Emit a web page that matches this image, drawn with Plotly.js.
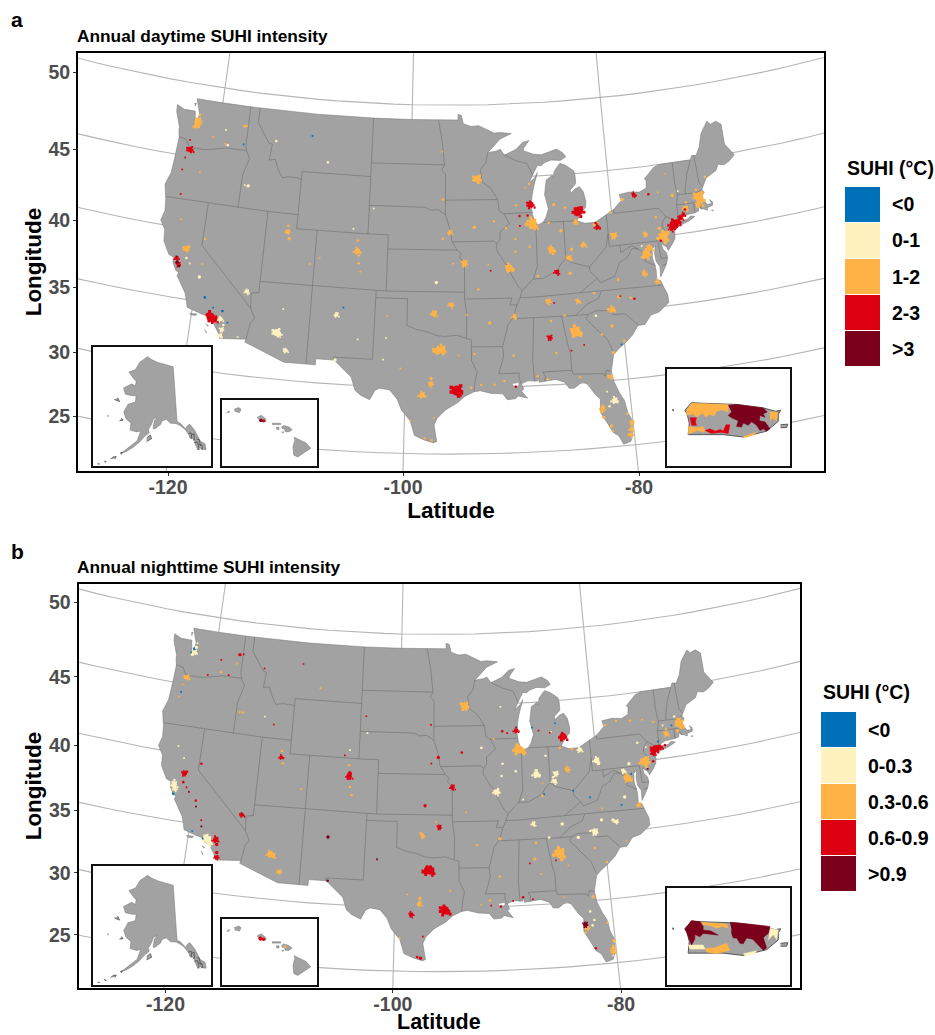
<!DOCTYPE html>
<html><head><meta charset="utf-8">
<script src="https://cdn.plot.ly/plotly-3.0.1.min.js"></script>
<style>html,body{margin:0;padding:0;background:#fff}#g{width:935px;height:1035px}</style>
</head><body><div id="g"></div>
<script>
const xTickVals=[168,403,639], xTickText=['-120','-100','-80'];
const yTickVals=[72,149,220,287,352,416], yTickText=['50','45','40','35','30','25'];
const classColors=['#0070B8','#FFF2BE','#FFB347','#DD0010','#7A001C'];
const dayLabels=['<0','0-1','1-2','2-3','>3'];
const nightLabels=['<0','0-0.3','0.3-0.6','0.6-0.9','>0.9'];
const usOutline=[[-124.7,48.38],[-123.9,48.15],[-123.2,48.15],[-122.75,48.15],[-122.55,47.3],[-122.35,47.6],[-122.25,48.0],[-122.5,48.5],[-122.76,49],[-120,49],[-117,49],[-110,49],[-104,49],[-100,49],[-97.2,49],[-95.15,49],[-95.15,49.38],[-94.8,49.3],[-94.6,48.75],[-93.8,48.55],[-93,48.6],[-92,48.3],[-91.4,48.07],[-90.75,48.1],[-89.6,48],[-90.8,47.65],[-91.5,47.2],[-92.1,46.75],[-91.2,46.85],[-90.8,46.95],[-90.4,46.55],[-89.2,46.9],[-88.45,47.37],[-87.8,47.47],[-88.4,46.95],[-88.45,46.8],[-87.4,46.52],[-86.6,46.45],[-85,46.77],[-84.4,46.5],[-84.1,46.2],[-84.7,45.98],[-85.6,46.05],[-86.3,45.9],[-86.7,45.7],[-87.05,45.75],[-87.6,45.1],[-88,44.55],[-87.4,44.9],[-87.1,45.25],[-87.5,44.4],[-87.75,43.7],[-87.9,43],[-87.8,42.3],[-87.6,41.85],[-87.3,41.62],[-86.8,41.78],[-86.5,42.1],[-86.2,42.7],[-86.3,43.1],[-86.5,43.7],[-86.25,44.7],[-85.6,45],[-85.5,44.8],[-85.4,45.25],[-85,45.6],[-84.75,45.78],[-84.2,45.63],[-83.4,45.2],[-83.3,44.85],[-83.3,44.3],[-83.9,43.9],[-83.9,43.65],[-83.4,43.95],[-82.95,44.07],[-82.6,43.7],[-82.42,43],[-82.5,42.6],[-82.9,42.35],[-83.15,42.05],[-83.45,41.72],[-82.7,41.5],[-81.7,41.5],[-80.5,41.98],[-79.75,42.27],[-78.9,42.85],[-79.05,43.27],[-78,43.37],[-77,43.28],[-76.3,43.5],[-76.2,44],[-76.35,44.15],[-75.3,44.85],[-74.7,45],[-73.35,45],[-71.5,45],[-71.3,45.3],[-70.85,45.25],[-70.4,45.8],[-70.25,46.2],[-70,46.7],[-69.2,47.45],[-68.9,47.2],[-68.3,47.35],[-67.8,47.07],[-67.8,45.7],[-67.45,45.3],[-67,44.85],[-67.6,44.5],[-68.2,44.3],[-68.8,44.4],[-69.1,44],[-69.8,43.75],[-70.2,43.6],[-70.6,43.1],[-70.8,42.85],[-70.6,42.65],[-71,42.3],[-70.65,41.95],[-70.5,41.77],[-70.05,41.78],[-70.2,42.07],[-69.95,41.9],[-69.97,41.65],[-70.65,41.52],[-71.1,41.5],[-71.35,41.7],[-71.45,41.4],[-71.85,41.32],[-72.9,41.25],[-73.65,40.98],[-73.95,40.78],[-74,40.7],[-74,40.45],[-74.1,39.75],[-74.4,39.4],[-74.9,38.95],[-75,39.2],[-75.5,39.5],[-75.4,39.1],[-75.1,38.8],[-75.05,38.45],[-75.25,38],[-75.65,37.5],[-75.95,37.15],[-75.9,37.9],[-76.2,38.3],[-76.25,38.9],[-76.1,39.4],[-76.45,39.2],[-76.5,38.5],[-76.35,38.05],[-76.3,37.6],[-76.35,37],[-76,36.9],[-75.85,36.55],[-75.5,35.8],[-75.5,35.25],[-76.5,34.65],[-77.3,34.5],[-77.95,33.87],[-78.6,33.85],[-79.2,33.2],[-79.9,32.7],[-80.65,32.25],[-81.1,31.9],[-81.3,31.3],[-81.45,30.7],[-81.3,29.9],[-80.9,29],[-80.55,28.45],[-80.35,27.5],[-80.05,26.9],[-80.12,25.8],[-80.35,25.3],[-81,25.13],[-81.35,25.8],[-81.8,26.1],[-82.2,26.8],[-82.75,27.7],[-82.65,28.7],[-83.1,29.1],[-83.65,29.85],[-84.1,30.1],[-84.9,29.65],[-85.35,29.68],[-85.7,30.15],[-86.5,30.4],[-87.5,30.3],[-88,30.25],[-88.05,30.65],[-88.15,30.35],[-89,30.4],[-89.6,30.2],[-89.4,29.8],[-89.6,29.65],[-89.1,29.1],[-89.9,29.3],[-90.2,29.1],[-90.9,29.05],[-91.3,29.5],[-91.85,29.5],[-92.3,29.55],[-93.3,29.77],[-93.85,29.7],[-94.7,29.35],[-95.3,28.9],[-96.4,28.35],[-97.15,27.7],[-97.4,27.2],[-97.25,26.5],[-97.15,25.96],[-97.4,25.85],[-98.2,26.05],[-99.1,26.4],[-99.5,27.5],[-100.3,28.3],[-100.7,29.1],[-101.4,29.77],[-102.3,29.88],[-102.7,29.7],[-103.15,28.98],[-104,29.3],[-104.5,29.65],[-104.9,30.6],[-106,31.4],[-106.53,31.78],[-108.2,31.78],[-108.2,31.33],[-111.07,31.33],[-114.8,32.5],[-114.72,32.72],[-117.12,32.53],[-117.25,32.85],[-117.9,33.6],[-118.4,33.75],[-118.5,34.03],[-119.2,34.15],[-120.5,34.45],[-120.65,34.9],[-120.9,35.45],[-121.9,36.6],[-121.8,36.85],[-122.1,36.95],[-122.5,37.5],[-122.5,37.8],[-122.2,37.55],[-122.35,38],[-122.5,37.85],[-123,38],[-123.7,38.9],[-123.8,39.7],[-124.35,40.3],[-124.1,41],[-124.2,41.75],[-124.55,42.84],[-124.15,43.7],[-124.05,44.7],[-123.95,46.2],[-124.1,46.7],[-124.1,46.9],[-124.65,47.9],[-124.7,48.38]];
const longIsland=[[-74,40.6],[-73.75,40.85],[-72.6,40.97],[-72.3,41.15],[-71.87,41.07],[-72.5,40.82],[-73.5,40.58],[-74,40.6]];
const smallIslands=[[[-120.2,34.05],[-119.5,34.07],[-119.6,33.95],[-120.1,33.95]],[[-118.6,33.47],[-118.3,33.35],[-118.4,33.3]],[[-118.6,33.05],[-118.35,32.82],[-118.45,32.82]],[[-70.85,41.45],[-70.5,41.47],[-70.6,41.35]],[[-70.2,41.32],[-69.97,41.3],[-70.1,41.24]],[[-122.95,48.65],[-122.75,48.7],[-122.85,48.45]]];
const lakes=[[[-90.4,30.25],[-89.8,30.3],[-89.85,30.05],[-90.3,30.05]]];
const stateBorders=[
[[-124,46.25],[-123.2,46.15],[-122.8,45.65],[-121.2,45.65],[-119.3,45.93],[-119,46],[-116.92,46]],
[[-117.03,49],[-117.04,46.4],[-116.92,46],[-116.5,45.5],[-117,44.3],[-117.03,42]],
[[-116.05,49],[-116.05,48],[-114.7,46.7],[-114.35,46.65],[-114.5,45.55],[-113.9,45.65],[-113.45,44.95],[-113,44.45],[-112.3,44.55],[-111.5,44.55],[-111.05,44.47]],
[[-111.05,45],[-111.05,41],[-104.05,41]],[[-111.05,45],[-104.05,45]],[[-104.05,49],[-104.05,41]],
[[-104.05,45.94],[-96.56,45.94]],[[-97.2,49],[-96.8,47.5],[-96.56,45.94],[-96.85,45.6],[-96.45,45.3],[-96.45,43.5],[-96.45,42.49]],
[[-104.05,43],[-98.5,43],[-97.9,42.8],[-97.2,42.85],[-96.45,42.49]],[[-96.45,43.5],[-91.22,43.5]],
[[-104.05,41],[-102.05,41],[-102.05,37]],[[-102.05,40],[-95.31,40]],
[[-96.45,42.49],[-96.1,41.7],[-95.9,41.2],[-95.85,40.7],[-95.31,40],[-94.9,39.75],[-95.1,39.5],[-94.6,39.1],[-94.62,36.5],[-94.43,35.4],[-94.48,33.64]],
[[-109.05,41],[-109.05,31.33]],[[-114.04,37],[-102.05,37],[-94.62,37]],[[-114.04,42],[-111.05,42]],[[-114.04,42],[-114.04,36.2],[-114.75,36.1],[-114.63,35]],
[[-124.2,42],[-114.04,42]],[[-120,42],[-120,39],[-114.63,35],[-114.15,34.3],[-114.5,33.9],[-114.72,32.72]],
[[-103,37],[-103,36.5],[-103.06,32],[-106.62,32],[-106.53,31.78]],
[[-103,36.5],[-100,36.5],[-100,34.56],[-99.2,34.3],[-98.1,34.13],[-97.2,33.85],[-96.5,33.8],[-95.3,33.88],[-94.48,33.64],[-94.04,33.55],[-94.04,32],[-93.55,31.2],[-93.75,30.4],[-93.85,29.7]],
[[-94.04,33.02],[-91.17,33]],[[-94.62,36.5],[-90.15,36.5],[-90.37,36],[-89.7,36]],
[[-92.1,46.75],[-92.3,46.1],[-92.9,45.6],[-92.75,44.75],[-91.9,44.3],[-91.22,43.5],[-91.1,42.7],[-90.64,42.5],[-90.15,41.8],[-91.1,41.2],[-91.1,40.7],[-91.42,40.4],[-91.5,40],[-90.7,39],[-90.2,38.7],[-90.2,38.3],[-89.5,37.3],[-89.15,37],[-89.4,36.5],[-89.7,36],[-90.1,35.1],[-90.6,34.6],[-91.17,33],[-91.1,32.3],[-91.6,31],[-89.75,31],[-89.8,30.65],[-89.6,30.2]],
[[-95.77,40.58],[-91.73,40.6],[-91.42,40.4]],[[-90.64,42.5],[-87.8,42.5]],[[-90.4,46.55],[-89.1,46.1],[-88.1,45.9],[-87.8,45.35],[-87.6,45.1]],
[[-87.53,41.7],[-87.53,39.35],[-87.6,38.7],[-88.05,37.8],[-89.15,37]],[[-84.8,41.76],[-84.82,39.1]],[[-86.8,41.76],[-84.8,41.76],[-83.45,41.72]],
[[-88.05,37.8],[-87.1,37.8],[-86.3,38.1],[-85.7,38.3],[-85.4,38.7],[-84.82,39.1],[-84.3,38.8],[-83.7,38.65],[-82.6,38.4],[-81.75,39],[-80.85,39.7],[-80.52,40.64],[-80.52,41.98]],
[[-80.52,40.64],[-80.52,39.72],[-75.79,39.72],[-75.7,38.46],[-75.05,38.45]],[[-79.76,42.27],[-79.76,42],[-75.35,42],[-74.7,41.36],[-75.13,40.98],[-75.2,40.65],[-74.75,40.2],[-75.4,39.8]],[[-74.7,41.36],[-73.9,41]],
[[-79.48,39.72],[-79.48,39.2],[-78.4,39.6],[-77.75,39.32],[-77.1,38.85],[-77.25,38.4],[-76.3,38]],[[-75.65,37.95],[-75.25,38.03]],
[[-77.75,39.32],[-78.35,39.4],[-78.9,38.8],[-79.7,38.5],[-80.3,37.55],[-81.7,37.2],[-81.97,37.54],[-82.6,38.1],[-82.6,38.4]],[[-81.97,37.54],[-83.68,36.6]],
[[-75.85,36.55],[-81.68,36.59],[-83.68,36.6],[-88.05,36.5],[-89.4,36.5]],[[-81.68,36.59],[-82,36.1],[-83.1,35.75],[-84.3,35]],
[[-90.1,35],[-88.2,35],[-85.6,35],[-84.32,34.99],[-83.11,35]],[[-83.11,35],[-82.4,35.2],[-81.05,35.15],[-80.8,34.82],[-79.67,34.8],[-78.55,33.86]],
[[-83.11,35],[-83.35,34.7],[-82.55,33.95],[-81.5,33],[-81.1,32.1]],[[-85.6,35],[-85.18,32.87],[-85,32.3],[-85,31],[-84.86,30.7],[-82.2,30.57],[-82.05,30.36],[-81.9,30.8],[-81.45,30.7]],
[[-87.6,31],[-85,31]],[[-87.6,31],[-87.4,30.65],[-87.5,30.3]],[[-88.2,35],[-88.47,31.9],[-88.4,30.3]],
[[-71.5,45],[-72.05,44.1],[-72.45,43],[-72.46,42.73]],[[-73.35,45],[-73.4,43.6],[-73.27,42.75],[-73.5,42.05],[-73.5,41.3],[-73.65,41]],
[[-73.27,42.75],[-71.3,42.7],[-70.82,42.87]],[[-73.5,42.05],[-71.8,42.02],[-71.38,42.02],[-71.13,41.5]],[[-71.8,42.02],[-71.85,41.32]],[[-71.08,45.3],[-70.98,43.4],[-70.7,43.07]]
];
const alaskaMain=[[-156.5,71.35],[-154,70.9],[-150,70.45],[-146,70.15],[-141,69.65],[-141,60.3],[-139.5,60],[-137.5,59],[-136.5,59.45],[-135.4,59.7],[-133.5,58.5],[-131.8,56.6],[-130,56],[-130,55],[-131.5,55.2],[-133,55.6],[-134.5,57],[-136.5,58.1],[-138,59],[-139.7,59.6],[-141.5,60],[-144,60.1],[-146,60.8],[-148,60.5],[-148.5,59.95],[-151,59.2],[-151.9,59.2],[-151.4,60.6],[-150,61.2],[-151.8,60.9],[-152.7,59.9],[-154,59],[-153.5,58.5],[-155.5,57.8],[-157.5,56.8],[-160,55.8],[-162.5,55],[-164.5,54.6],[-163,55.2],[-161,55.95],[-158.5,57],[-157.3,58.7],[-159,58.5],[-162,58.7],[-162,59.9],[-164.5,60.5],[-166,61.6],[-165,62.5],[-164.5,63],[-161,63.5],[-161,64.6],[-163,64.5],[-166.5,64.6],[-168,65.6],[-164,66.5],[-162,66.2],[-161.8,67],[-164,67.6],[-166.5,68.4],[-163,69],[-161,70.3],[-156.5,71.35]];
const alaskaIslands=[[[-154.5,57],[-152.4,57.5],[-153,58.1],[-154.5,57.6]],[[-171.5,63.4],[-168.8,63.2],[-170,63.8]],[[-167.3,60],[-165.7,60.2],[-166.5,60.5]],[[-173,60.6],[-172.6,60.4],[-172.7,60.3]],[[-172.9,52.15],[-172.1,52.2],[-172.3,52.05]],[[-170.6,52.8],[-169.8,52.8],[-170,52.6]],[[-168.3,53.4],[-167.8,53.5],[-167.4,53.8],[-166.2,53.9],[-166.6,53.5]],[[-164.9,54.6],[-164,54.8],[-164.3,54.4]],[[-136.6,58.1],[-135.2,58.2],[-135.3,57.2],[-136.2,57.5]],[[-135.2,57.8],[-134,58],[-134.2,57],[-134.8,56.9]],[[-134.5,56.5],[-133,56.5],[-132.8,55.2],[-133.6,55.3]],[[-133.2,57],[-132.2,56.9],[-132,55.9],[-132.6,56.1]],[[-132.2,55.9],[-131.4,55.9],[-131.4,55.2],[-132,55.2]]];
const hawaiiIslands=[[[-159.75,22.1],[-159.45,22.22],[-159.3,22.1],[-159.4,21.88],[-159.7,21.95]],[[-160.25,21.85],[-160.05,22],[-160.1,21.85]],[[-158.27,21.55],[-158,21.7],[-157.7,21.45],[-157.7,21.28],[-158.1,21.3]],[[-157.3,21.17],[-156.75,21.17],[-156.75,21.08],[-157.3,21.08]],[[-157.05,20.9],[-156.85,20.9],[-156.85,20.75],[-157,20.75]],[[-156.7,20.9],[-156.55,21.02],[-156.25,20.93],[-156,20.75],[-156.2,20.6],[-156.45,20.6],[-156.5,20.8],[-156.65,20.8]],[[-156.7,20.58],[-156.55,20.6],[-156.6,20.5]],[[-155.9,20.25],[-155.6,20.1],[-155.1,19.85],[-154.8,19.5],[-155.2,19.25],[-155.65,18.92],[-155.9,19.05],[-155.95,19.6],[-155.85,20]]];
const prMain=[[-67.27,18.38],[-67.15,18.51],[-66.94,18.5],[-66.52,18.48],[-66.34,18.48],[-65.86,18.42],[-65.59,18.35],[-65.59,18.19],[-65.8,18.02],[-66.22,17.92],[-66.58,17.96],[-66.94,17.96],[-67.21,17.96],[-67.19,18.16],[-67.23,18.32],[-67.27,18.38]];
const prIslets=[[[-65.55,18.13],[-65.42,18.14],[-65.44,18.08],[-65.55,18.08]],[[-65.62,18.37],[-65.55,18.38],[-65.57,18.33]],[[-67.5,18.39],[-67.47,18.39],[-67.48,18.36]]];
const prDay=[
 [2,[[-67.24,18.38],[-67.15,18.5],[-66.49,18.48],[-66.49,18.35],[-66.6,18.39],[-66.7,18.36],[-66.75,18.28],[-66.82,18.31],[-66.9,18.26],[-66.94,18.33],[-67,18.3],[-67.06,18.26],[-67.12,18.32],[-67.24,18.29]]],
 [2,[[-65.74,18.35],[-65.6,18.35],[-65.62,18.2],[-65.7,18.25],[-65.74,18.18]]],
 [2,[[-67.21,18.1],[-67.05,18.08],[-66.94,18.1],[-66.91,18],[-67.05,18.03],[-67.21,17.97]]],
 [2,[[-66.22,17.93],[-65.98,18],[-66.04,17.95],[-66.19,17.91]]],
 [3,[[-67.18,18.25],[-67.06,18.25],[-67.08,18.18],[-67.06,18.12],[-67.15,18.12]]],
 [3,[[-66.91,18.03],[-66.82,18.06],[-66.72,18.02],[-66.63,18.05],[-66.58,18.02],[-66.53,18.13],[-66.46,18.13],[-66.49,17.98],[-66.62,18],[-66.8,17.98]]],
 [4,[[-66.49,18.46],[-66.34,18.48],[-65.86,18.42],[-65.79,18.35],[-65.86,18.32],[-65.83,18.26],[-65.92,18.29],[-65.93,18.2],[-65.83,18.18],[-65.74,18.06],[-65.8,18.02],[-65.86,18.06],[-65.92,18.03],[-65.98,18.12],[-66.07,18.18],[-66.13,18.12],[-66.22,18.16],[-66.25,18.09],[-66.34,18.1],[-66.31,18.2],[-66.43,18.25],[-66.49,18.29],[-66.43,18.35]]]];
const prNight=[
 [2,[[-66.97,18.49],[-66.52,18.46],[-66.49,18.39],[-66.6,18.42],[-66.7,18.39],[-66.8,18.43],[-66.94,18.45]]],
 [2,[[-66.91,18.04],[-66.75,18.05],[-66.52,18.13],[-66.46,18.01],[-66.7,17.95],[-66.88,17.98]]],
 [1,[[-67.21,18.1],[-66.94,18.1],[-66.91,18.03],[-67.18,18.03]]],
 [1,[[-65.74,18.39],[-65.59,18.36],[-65.62,18.19],[-65.68,18.28],[-65.77,18.19]]],
 [1,[[-66.22,17.95],[-65.98,18],[-66.01,17.95],[-66.19,17.91]]],
 [4,[[-67.27,18.37],[-67.15,18.52],[-67,18.5],[-66.94,18.42],[-66.94,18.36],[-66.8,18.34],[-66.67,18.27],[-66.8,18.29],[-66.94,18.3],[-67,18.24],[-67.09,18.28],[-67.09,18.2],[-67.15,18.1],[-67.21,18.24]]],
 [4,[[-66.46,18.49],[-66.2,18.47],[-65.74,18.42],[-65.77,18.3],[-65.86,18.23],[-65.8,18.05],[-65.86,18.01],[-65.98,18.13],[-66.05,18.2],[-66.16,18.22],[-66.22,18.12],[-66.28,18.13],[-66.34,18.22],[-66.4,18.22],[-66.43,18.3],[-66.43,18.36]]]];
const hawaiiDay=[[4,-158.02,21.36,4],[3,-157.85,21.33,4]], hawaiiNight=[[3,-158.05,21.38,5],[3,-157.85,21.33,4],[2,-156.45,20.85,3]];

const dayCities=[
[0,-119,35.35,3],[0,-118.1,34.7,2],[0,-117.2,34.55,3],[0,-116.6,33.75,2],[0,-106,35.65,2],[0,-110.3,47.5,2],[0,-117.3,46.4,2],[0,-80.3,32.6,2],
[1,-116.3,43.6,4],[1,-116.65,43.62,2],[1,-118.9,46.2,3],[1,-119.3,47.2,2],[1,-108.5,45.8,3],[1,-114,46.9,3],[1,-105.5,41.3,2],[1,-103.6,42.8,2],[1,-106.6,35.1,5],[1,-115.15,36.15,5],[1,-112,33.45,9],[1,-111.75,33.35,6],[1,-111,32.2,5],[1,-111.6,35.2,2],[1,-106.45,31.8,4],[1,-97.3,37.7,4],[1,-104.5,33.4,2],[1,-101.9,33.6,2],[1,-102.1,32,2],[1,-117.1,32.75,5],[1,-117.05,33.2,5],[1,-116.95,33.55,3],[1,-117.3,33.95,6],[1,-115.5,32.8,2],[1,-119.8,36.75,4],[1,-121.3,37.95,3],[1,-120.9,37.6,2],[1,-81.4,28.5,7],[1,-81.9,28.1,3],[1,-82,29.2,2],[1,-82.4,34.85,3],[1,-77.4,39.5,2],[1,-73.2,43,2],
[2,-122.25,47.6,6],[2,-122.3,47.35,7],[2,-122.2,47.95,3],[2,-122.45,47.15,5],[2,-117.4,47.65,4],[2,-117.15,47.68,2],[2,-119.2,46.25,2],[2,-120.5,46.6,2],[2,-121.3,44.05,2],[2,-122.4,40.6,2],[2,-121.45,38.6,7],[2,-121.2,38.75,3],[2,-119.8,39.5,3],[2,-119.7,37.7,2],
[2,-111.9,41.15,3],[2,-111.9,40.75,5],[2,-111.7,40.25,4],[2,-105,39.75,7],[2,-104.85,39.45,3],[2,-104.8,38.9,3],[2,-105,40.5,3],[2,-104.6,38.3,2],[2,-97.05,32.8,8],[2,-96.75,32.85,9],[2,-97.3,32.75,7],[2,-97.75,30.3,6],[2,-97.7,30.7,4],[2,-98.5,29.45,7],[2,-97.5,35.45,7],[2,-95.9,36.1,6],[2,-94.6,39.05,7],[2,-90.3,38.65,9],[2,-96,41.25,5],[2,-93.6,41.6,4],[2,-93.25,44.95,9],[2,-93.05,44.9,5],[2,-89.4,43.05,3],[2,-87.9,41.75,11],[2,-87.75,41.55,8],[2,-88.2,41.85,5],[2,-85.65,42.95,4],[2,-84.55,42.7,3],[2,-83.6,41.65,5],[2,-81.6,41.35,5],[2,-80,40.45,7],[2,-86.15,39.8,8],[2,-83,40,6],[2,-84.2,39.75,4],[2,-84.5,39.15,6],[2,-86.75,36.15,6],[2,-83.95,36,5],[2,-80.85,35.2,7],[2,-81.2,35.25,3],[2,-80.1,36.05,4],[2,-79,35.9,3],[2,-84.4,33.8,12],[2,-84.2,33.95,6],[2,-75.2,39.95,11],[2,-74.8,40.2,5],[2,-77,38.9,9],[2,-76.65,39.3,7],[2,-77.3,38.75,5],[2,-71.2,42.4,11],[2,-71.05,42.15,7],[2,-71.4,41.85,6],[2,-70.9,41.7,3],[2,-73.8,42.75,4],[2,-72.65,41.75,6],[2,-72.55,42.15,3],[2,-77.45,37.55,6],[2,-76.3,36.85,5],[2,-90,35.15,5],[2,-81.6,30.3,5],[2,-84.3,30.45,3],[2,-81.1,32.05,4],[2,-80,32.85,3],[2,-81,34,4],[2,-82,33.45,3],[2,-86.3,32.35,3],[2,-88.1,30.7,3],[2,-87.2,30.45,3],[2,-91.1,30.45,3],[2,-92,30.2,3],[2,-93.2,30.2,3],[2,-94.1,30,3],[2,-93.75,32.5,3],[2,-90.2,32.3,3],[2,-92.3,34.75,4],[2,-94.4,35.35,2],[2,-93.3,37.2,3],[2,-92.3,38.95,2],[2,-86.6,34.7,3],[2,-85.3,35.05,3],[2,-82.4,36.5,3],[2,-80,37.3,3],[2,-84.5,38.05,4],[2,-87.6,38,3],[2,-85.1,41.1,4],[2,-86.25,41.7,3],[2,-89.6,40.7,3],[2,-89.65,39.8,3],[2,-88.25,40.1,3],[2,-90.5,41.5,3],[2,-91.65,42,3],[2,-88,44.5,3],[2,-88.4,44.25,2],[2,-96.8,46.85,2],[2,-96.7,43.55,3],[2,-96.7,40.8,3],[2,-95.7,39.05,2],[2,-80.1,42.1,3],[2,-78.8,42.9,4],[2,-76.9,40.3,5],[2,-75.7,41.4,3],[2,-75.5,40.6,4],[2,-75.2,43.1,2],[2,-74.2,44.3,2],[2,-70.3,43.7,3],[2,-71.4,42.9,3],[2,-82.5,28,6],[2,-82.65,27.75,4],[2,-82.5,27.3,4],[2,-81.9,26.6,4],[2,-81.8,26.2,3],[2,-80.2,26.2,5],[2,-80.3,25.8,5],[2,-80.1,26.7,5],[2,-80.4,27.4,3],[2,-97.6,26.05,3],[2,-98.2,26.2,3],[2,-97.4,27.75,2],[2,-99.5,27.5,2],[2,-95.2,32.4,2],[2,-101.85,35.2,2],[2,-100.5,31.4,2],[2,-109.5,38.6,2],[2,-108.6,39.1,2],
[3,-122.65,45.5,7],[3,-122.8,46.15,2],[3,-123,44.9,2],[3,-123.1,44.05,2],[3,-122.85,42.35,2],[3,-122.2,37.8,5],[3,-121.95,37.4,5],[3,-118.2,34,11],[3,-117.9,33.85,8],[3,-118.45,34.2,4],[3,-95.4,29.8,13],[3,-95.1,29.6,5],[3,-87.95,43.05,8],[3,-88.3,42.3,3],[3,-89.1,42.3,3],[3,-83.2,42.4,11],[3,-83.5,42.3,5],[3,-81.5,41.15,6],[3,-81.65,41.45,3],[3,-85.75,38.2,6],[3,-86.8,33.5,6],[3,-77.6,43.15,5],[3,-76.15,43.05,3],[3,-74.1,40.75,9],[3,-73.75,40.85,8],[3,-73.95,40.65,6],[3,-73.3,41.1,6],[3,-73,41.3,5],[3,-72.75,41.65,3],[3,-74.3,40.45,6],[3,-73.4,40.8,4],[3,-90.1,30,3],[3,-83.7,32.8,2],[3,-84.9,32.45,2],[3,-78.65,35.8,3],[3,-79.95,36.1,2],[3,-75.5,39.7,3],[3,-92.1,38.5,2],[3,-89.1,41.6,2],[3,-86.2,36,2],
[4,-122.1,37.55,4],[4,-122.25,37.95,2],[4,-121.85,37.3,3]];
const nightCities=[
[0,-122.3,47.6,4],[0,-122.6,47.3,2],[0,-122.1,36.98,3],[0,-118.6,34,2],[0,-87.5,41.65,2],[0,-87.9,43.3,2],[0,-86.3,43.2,2],[0,-83.9,43.4,2],[0,-83.15,42.6,2],[0,-73.6,41.3,2],[0,-72,42.3,2],[0,-85.5,38.3,2],[0,-82.6,38.4,2],[0,-81,37.8,2],[0,-78,37,2],[0,-76.7,39.2,2],[0,-121.9,37.4,2],[0,-119.7,34.45,2],[0,-123,44.4,2],
[1,-122.25,47.35,5],[1,-122.15,47.7,4],[1,-122.45,47.15,4],[1,-122.1,48,2],[1,-122.15,37.65,7],[1,-122,37.35,5],[1,-122.2,38,3],[1,-122.35,40.5,2],[1,-121.6,39.7,2],[1,-118.1,33.95,9],[1,-118.3,34.2,5],[1,-117.9,33.7,6],[1,-114,43.5,2],[1,-105,41.6,2],[1,-103.3,42.9,2],[1,-90.2,38.65,7],[1,-90.05,38.85,3],[1,-86.15,39.8,8],[1,-86.1,40.1,3],[1,-84.4,39.2,6],[1,-84.2,39.75,6],[1,-84.5,39.5,3],[1,-81.6,41.35,6],[1,-80,40.45,7],[1,-79.8,40.2,3],[1,-76.8,39.95,4],[1,-77.4,39.45,5],[1,-77.6,37.55,4],[1,-86.75,36.15,5],[1,-83.95,36,4],[1,-80.85,35.2,7],[1,-81.3,35.3,3],[1,-80.1,36.05,4],[1,-79,35.95,4],[1,-78.7,35.8,5],[1,-75.7,41.4,3],[1,-74.9,41,2],[1,-72.9,42.4,2],[1,-71.6,42.9,3],[1,-85.3,35.05,3],[1,-82.5,34.9,4],[1,-81.7,28.5,3],[1,-81.9,28.1,3],[1,-82,29.2,3],[1,-80.3,25.6,2],[1,-80.05,26.7,3],[1,-87.6,38,2],[1,-85.1,41.1,3],[1,-89.5,40.7,3],[1,-89.65,39.8,3],[1,-88.2,40.1,3],[1,-91.6,41.9,3],[1,-89.5,44.8,2],[1,-84.4,42.8,2],
[2,-122.65,45.5,6],[2,-122.95,44.95,2],[2,-123.1,44.05,2],[2,-116.3,43.6,3],[2,-116.65,43.6,2],[2,-119.2,46.25,3],[2,-117.6,47,2],[2,-108.5,45.9,2],[2,-111.9,41.15,3],[2,-111.7,40.25,3],[2,-104.8,38.9,3],[2,-105,40.5,3],[2,-104.6,38.3,3],[2,-112.05,33.45,7],[2,-111.75,33.35,6],[2,-111,32.2,5],[2,-97.5,35.45,5],[2,-97.7,35.65,3],[2,-97.75,30.3,5],[2,-97.7,30.7,4],[2,-93.25,44.95,9],[2,-93.05,44.9,5],[2,-87.85,41.7,11],[2,-87.4,41.55,7],[2,-71.15,42.3,9],[2,-71.2,42.6,6],[2,-72.65,41.75,6],[2,-72.6,42.1,3],[2,-71.45,41.85,4],[2,-75.2,39.95,10],[2,-74.95,40.15,5],[2,-77.1,38.9,9],[2,-76.3,36.85,5],[2,-84.4,33.8,12],[2,-84.2,34,6],[2,-83,40,6],[2,-82.4,41.45,3],[2,-83.6,41.6,3],[2,-90.05,35.15,4],[2,-92.3,34.75,3],[2,-90.2,32.3,3],[2,-86.8,33.5,4],[2,-86.3,32.35,2],[2,-83.65,32.85,2],[2,-81.6,30.3,4],[2,-82.45,28,6],[2,-82.6,27.6,3],[2,-80.2,26.2,5],[2,-80.3,25.9,5],[2,-80.1,26.75,4],[2,-80.5,28.2,3],[2,-91.2,30.5,3],[2,-92,30.2,2],[2,-84.3,30.45,2],[2,-80,32.85,3],[2,-81,34,3],[2,-77.9,34.25,2],[2,-79.95,36.9,2],[2,-73.8,42.75,3],[2,-74.9,43,2],[2,-78.8,42.95,3],[2,-77.6,43.15,3],[2,-76.15,43.05,3],[2,-85.7,38.2,3],[2,-85.6,39.1,2],[2,-86.6,34.7,3],[2,-93.3,37.2,2],[2,-96.2,36.5,2],[2,-98.9,31,2],[2,-94.9,31.3,2],[2,-109.6,38.5,2],[2,-99.5,27.6,2],[2,-90.3,42.5,2],
[3,-117.4,47.65,4],[3,-117,47.7,2],[3,-119.3,47.1,2],[3,-118.3,46.1,2],[3,-120.5,45.9,2],[3,-119.8,39.5,3],[3,-121.35,38.6,6],[3,-121.1,38.75,3],[3,-121.3,37.95,3],[3,-120.9,37.6,2],[3,-119.8,36.75,3],[3,-119,35.35,2],[3,-115.15,36.15,5],[3,-117.35,34.05,7],[3,-117.2,33.7,4],[3,-117.05,32.75,5],[3,-117.1,33.1,4],[3,-111.9,40.7,5],[3,-104.95,39.7,7],[3,-104.9,39.95,4],[3,-110.5,47.5,2],[3,-114.6,46.9,2],[3,-113,43,2],[3,-105.5,41.2,2],[3,-103.5,44.1,2],[3,-96.75,43.6,2],[3,-96,41.25,4],[3,-96.7,40.8,2],[3,-94.6,39.05,6],[3,-97.3,37.7,4],[3,-95.9,36.1,5],[3,-93.6,41.6,3],[3,-97,32.85,10],[3,-96.7,32.8,9],[3,-97.3,32.75,6],[3,-98.5,29.45,6],[3,-95.4,29.8,11],[3,-95.1,29.65,5],[3,-97.6,26.05,4],[3,-97.9,26.15,3],[3,-97.4,27.75,2],[3,-87.95,43.05,6],[3,-88.9,42.9,2],[3,-89.4,43.05,3],[3,-85.65,42.95,2],[3,-84.5,42.75,2],[3,-83.2,42.4,9],[3,-83.35,42.2,4],[3,-74.1,40.75,8],[3,-73.8,40.82,8],[3,-73.4,40.85,5],[3,-72.95,40.95,3],[3,-74.25,40.5,6],[3,-74.35,39.9,3],[3,-88.1,30.65,3],[3,-89.05,30.4,2],[3,-87.2,30.45,2],[3,-90.2,30,3],[3,-91.1,30.1,2],[3,-81.8,26.3,3],[3,-84.8,33.3,2],[3,-87.3,33.2,2],
[4,-106.65,35.1,4],[4,-106.4,31.8,3],[4,-101.85,33.6,2],[4,-119.7,36.3,2],[4,-120.6,37.3,2],[4,-118.9,34.9,2],[4,-82.55,28.2,6],[4,-75,39.4,2]];
const blobShape=[[.46,.12],[.3,-.36],[-.1,-.5],[-.42,-.24],[-.52,.14],[-.2,.44],[.18,.52],[.5,.36]];

const deg=Math.PI/180;
function usX(lon,lat){const r=1595+14*(43-lat);return 450+r*Math.sin(.36*(lon+96)*deg);}
function usY(lon,lat){const r=1595+14*(43-lat),d=41-lat;return 236+14.21*d-.0362*d*d-r*(1-Math.cos(.36*(lon+96)*deg));}
function akX(lon,lat){const r=277+5.9*(55-lat);return 160+r*Math.sin(.51*(lon+148.8)*deg);}
function akY(lon,lat){const r=277+5.9*(55-lat);return 176.6+r*Math.cos(.51*(lon+148.8)*deg);}
function polyXY(polys,fx,fy){const x=[],y=[];polys.forEach(p=>{p.forEach(q=>{x.push(fx(q[0],q[1]));y.push(fy(q[0],q[1]));});x.push(null);y.push(null);});return {x,y};}
const id=(a)=>a, latOf=(lo,la)=>la;
const landColor='#A2A2A2', edge='#757575';
const font='"Liberation Sans", Arial, sans-serif';
function dom(a,b,t){return [a/t,b/t];}
const traces=[],layout={width:935,height:1035,margin:{l:0,r:0,t:0,b:0},paper_bgcolor:'#fff',plot_bgcolor:'#fff',showlegend:false,font:{family:font},shapes:[],annotations:[]};

function ax(n){return n===1?'':String(n);}
function addPoly(n,polys,fx,fy,fill,lineColor,w){const c=polyXY(polys,fx,fy);traces.push({type:'scatter',mode:'lines',x:c.x,y:c.y,xaxis:'x'+ax(n),yaxis:'y'+ax(n),fill:'toself',fillcolor:fill,line:{color:lineColor,width:w},hoverinfo:'skip'});}
function addMarkers(n,list,fx,fy,scale){classColors.forEach((col,k)=>{
  const s=list.filter(c=>c[0]===k);if(!s.length)return;
  const xs=[],ys=[],sz=[],sy=[];
  s.forEach((c,i)=>{const X=fx(c[1],c[2]),Y=fy(c[1],c[2]),z=c[3];
    if(z<5||!scale){xs.push(X);ys.push(Y);sz.push(z*.85);sy.push(z<3?'square':'circle');}
    else{xs.push(X);ys.push(Y);sz.push(z*.78);sy.push('circle');
      blobShape.forEach((o,j)=>{if((i+j)%3===2)return;const v=blobShape[(i*3+j)%blobShape.length];const f=(j%2?1:.8);xs.push(X+v[0]*z*f);ys.push(Y+v[1]*z*f);sz.push(Math.max(1.6,z*.27));sy.push('square');});}
  });
  traces.push({type:'scatter',mode:'markers',x:xs,y:ys,xaxis:'x'+ax(n),yaxis:'y'+ax(n),marker:{color:col,opacity:1,size:sz,symbol:sy,line:{width:0}},hoverinfo:'skip'});
});}

function panel(base,box,cities,prData,hiData,labels,title,letter,leg){
 const [L,R,T,B,off]=box;
 const H=1035,W=935;
 const tf={size:19.5,color:'#4D4D4D',family:font,weight:'bold'};
 const common={showgrid:false,zeroline:false,showline:true,mirror:true,linecolor:'#000',linewidth:2,ticks:'outside',ticklen:3,tickwidth:1,tickcolor:'#333',tickfont:tf};
 const xt=base===1?{text:'<b>Latitude</b>',font:{size:22.5,color:'#000',family:font},standoff:0}:undefined;
 layout['xaxis'+ax(base)]=Object.assign({},common,{domain:dom(L,R,W),range:[78,824],tickmode:'array',tickvals:xTickVals,ticktext:xTickText,ticklabelstandoff:-5,anchor:'y'+ax(base)},xt?{title:xt}:{});
 layout['yaxis'+ax(base)]=Object.assign({},common,{domain:[1-B/H,1-T/H],range:[471,53],tickmode:'array',tickvals:yTickVals,ticktext:yTickText,ticklabelstandoff:-1,anchor:'x'+ax(base),title:{text:'<b>Longitude</b>',font:{size:22.5,color:'#000',family:font},standoff:1}});
 if(!xt) layout.annotations.push({xref:'paper',yref:'paper',x:(L+R)/2/W,y:1-1022/H,xanchor:'center',yanchor:'middle',text:'<b>Latitude</b>',showarrow:false,font:{size:21.5,color:'#000'}});
 const gx=[],gy=[];
 [25,30,35,40,45,50].forEach(la=>{for(let lo=-140;lo<=-50;lo+=2){gx.push(usX(lo,la));gy.push(usY(lo,la));}gx.push(null);gy.push(null);});
 [-120,-100,-80].forEach(lo=>{for(let la=18;la<=58;la+=2){gx.push(usX(lo,la));gy.push(usY(lo,la));}gx.push(null);gy.push(null);});
 traces.push({type:'scatter',mode:'lines',x:gx,y:gy,xaxis:'x'+ax(base),yaxis:'y'+ax(base),line:{color:'#B5B5B5',width:1.1},hoverinfo:'skip'});
 addPoly(base,[usOutline,longIsland].concat(smallIslands),usX,usY,landColor,edge,.5);
 addPoly(base,lakes,usX,usY,'#ffffff',edge,.4);
 const b=polyXY(stateBorders,usX,usY);
 traces.push({type:'scatter',mode:'lines',x:b.x,y:b.y,xaxis:'x'+ax(base),yaxis:'y'+ax(base),line:{color:'#666666',width:.5},hoverinfo:'skip'});
 addMarkers(base,cities,usX,usY,true);
 const inset={showgrid:false,zeroline:false,showline:true,mirror:true,linecolor:'#111',linewidth:2,ticks:'',showticklabels:false};
 const akBox=[93,211,347+off,466+off],hiBox=[222,317,400+off,466+off],prBox=[667,790,369+off,466+off];
 [[base+1,akBox,[93,211],[466,347]],[base+2,hiBox,[-160.53,-154.4],[18.32,22.72]],[base+3,prBox,[-67.59,-65.38],[17.42,19.09]]].forEach(s=>{
   const n=s[0],bb=s[1];
   layout['xaxis'+ax(n)]=Object.assign({},inset,{domain:dom(bb[0],bb[1],W),range:s[2],anchor:'y'+ax(n)});
   layout['yaxis'+ax(n)]=Object.assign({},inset,{domain:[1-bb[3]/H,1-bb[2]/H],range:s[3],anchor:'x'+ax(n)});
 });
 addPoly(base+1,[alaskaMain],akX,akY,landColor,edge,.5);
 addPoly(base+1,alaskaIslands,akX,akY,landColor,'#444',.7);
 addPoly(base+2,hawaiiIslands,id,latOf,landColor,edge,.5);
 addMarkers(base+2,hiData,id,latOf,false);
 addPoly(base+3,[prMain].concat(prIslets),id,latOf,landColor,'#5a5a5a',1);
 prData.forEach(p=>addPoly(base+3,[p[1]],id,latOf,classColors[p[0]],classColors[p[0]],.5));
 layout.annotations.push({xref:'paper',yref:'paper',x:leg[2]/W,y:1-leg[3]/H,xanchor:'left',yanchor:'middle',text:'<b>SUHI (°C)</b>',showarrow:false,font:{size:19.5,color:'#000'}});
 layout.annotations.push({xref:'paper',yref:'paper',x:letter[1]/W,y:1-letter[2]/H,xanchor:'left',yanchor:'middle',text:'<b>'+letter[0]+'</b>',showarrow:false,font:{size:21,color:'#000'}});
 layout.annotations.push({xref:'paper',yref:'paper',x:title[1]/W,y:1-title[2]/H,xanchor:'left',yanchor:'middle',text:'<b>'+title[0]+'</b>',showarrow:false,font:{size:17.3,color:'#000'}});
 labels.forEach((t,i)=>{
   const y0=leg[1]+i*36,y1=y0+35;
   layout.shapes.push({type:'rect',xref:'paper',yref:'paper',x0:leg[0]/W,x1:(leg[0]+35)/W,y0:1-y1/H,y1:1-y0/H,fillcolor:classColors[i],line:{width:0}});
   layout.annotations.push({xref:'paper',yref:'paper',x:(leg[0]+45)/W,y:1-(y0+17.5)/H,xanchor:'left',yanchor:'middle',text:'<b>'+t.replace('<','&lt;').replace('>','&gt;')+'</b>',showarrow:false,font:{size:19.5,color:'#000'}});
 });
}
panel(1,[78,824,53,471,0],dayCities,prDay,hawaiiDay,dayLabels,['Annual daytime SUHI intensity',75,36],['a',9,20],[845,187,845,168]);
panel(5,[78.5,800,584,988,518.5],nightCities,prNight,hawaiiNight,nightLabels,['Annual nighttime SUHI intensity',75,567],['b',9,551],[821,712,821,692]);
Plotly.newPlot('g',traces,layout,{staticPlot:true,displayModeBar:false});
</script></body></html>
